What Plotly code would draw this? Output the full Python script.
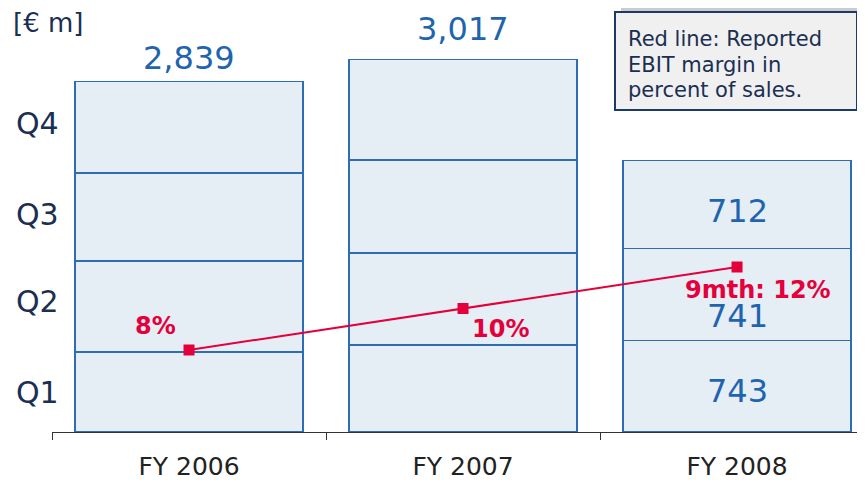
import plotly.graph_objects as go

years = ["FY 2006", "FY 2007", "FY 2008"]
q1 = [647, 704, 743]
q2 = [736, 744, 741]
q3 = [712, 752, 712]
q4 = [744, 817, None]
totals = ["2,839", "3,017", None]
quarter_labels = ["Q1", "Q2", "Q3", "Q4"]
margin_vals = [8, 10, 12]
margin_labels = ["8%", "10%", "9mth: 12%"]
fy08_labels = ["743", "741", "712"]
legend_lines = ["Red line: Reported", "EBIT margin in", "percent of sales."]

BAR_FILL = "#E5EDF5"
BAR_LINE = "#2E6DB4"
BLUE_TXT = "#1F64AE"
NAVY = "#1B2F52"
RED = "#E4003A"
FONT = "DejaVu Sans"

# page has 8px body margin: figure is offset by (8, 8)
OFF = 8
PAGE_W, PAGE_H = 865, 480
W, H = PAGE_W - OFF, PAGE_H - OFF
PLOT_L, PLOT_R, PLOT_T, PLOT_B = 52, 865, 20, 432  # page pixels
L, R, T, B = PLOT_L - OFF, PAGE_W - PLOT_R, PLOT_T - OFF, PAGE_H - PLOT_B
PW, PH = PLOT_R - PLOT_L, PLOT_B - PLOT_T

def px_x(x):
    return (x - PLOT_L) / PW

def px_y(y):
    return (PLOT_B - y) / PH

fig = go.Figure()
for vals in [q1, q2, q3, q4]:
    fig.add_trace(go.Bar(
        x=years, y=vals, width=0.832,
        marker=dict(color=BAR_FILL, line=dict(color=BAR_LINE, width=1.2)),
        showlegend=False, hoverinfo="skip"))

fig.add_trace(go.Scatter(
    x=years, y=margin_vals, yaxis="y2", mode="lines+markers",
    line=dict(color=RED, width=2),
    marker=dict(symbol="square", size=11, color=RED),
    showlegend=False, hoverinfo="skip"))

ann = []
tot_vals = [sum(v for v in (a, b, c, d) if v is not None) for a, b, c, d in zip(q1, q2, q3, q4)]
tot_shift = [23, 30]
for i in range(2):
    ann.append(dict(x=years[i], y=tot_vals[i], xref="x", yref="y", text=totals[i],
                    showarrow=False, xanchor="center", yanchor="middle", yshift=tot_shift[i],
                    font=dict(family=FONT, size=32, color=BLUE_TXT)))
cum = 0
seg_shift = [-5, -22, -6]
for j, v in enumerate([q1[2], q2[2], q3[2]]):
    mid = cum + v / 2
    cum += v
    ann.append(dict(x=years[2], y=mid, xref="x", yref="y", text=fy08_labels[j],
                    showarrow=False, xanchor="center", yanchor="middle", yshift=seg_shift[j],
                    borderpad=0, font=dict(family=FONT, size=32, color=BLUE_TXT)))
m_shift = [(-34, 24), (37, -20), (21, -23)]
for i in range(3):
    ann.append(dict(x=years[i], y=margin_vals[i], xref="x", yref="y2", text="<b>" + margin_labels[i] + "</b>",
                    showarrow=False, xanchor="center", yanchor="middle",
                    xshift=m_shift[i][0], yshift=m_shift[i][1],
                    borderpad=0, font=dict(family=FONT, size=24, color=RED)))
q_px = [392, 302, 214, 123]
for lab, yp in zip(quarter_labels, q_px):
    ann.append(dict(x=px_x(37), y=px_y(yp), xref="paper", yref="paper", text=lab,
                    xanchor="center", yanchor="middle",
                    showarrow=False, font=dict(family=FONT, size=30, color=NAVY)))
ann.append(dict(x=px_x(48), y=px_y(23), xref="paper", yref="paper", text="[€ m]",
                xanchor="center", yanchor="middle",
                showarrow=False, font=dict(family=FONT, size=26, color=NAVY)))
for k, line in enumerate(legend_lines):
    ann.append(dict(x=px_x(626), y=px_y(39 + 25.5 * k), xref="paper", yref="paper",
                    xanchor="left", yanchor="middle", text=line,
                    showarrow=False, font=dict(family=FONT, size=21, color=NAVY)))

shapes = [
    dict(type="rect", xref="paper", yref="paper", x0=px_x(621), x1=px_x(862), y0=px_y(4), y1=px_y(103),
         fillcolor="#CCCCCC", line=dict(width=0), layer="above"),
    dict(type="rect", xref="paper", yref="paper", x0=px_x(615), x1=px_x(857), y0=px_y(12), y1=px_y(110),
         fillcolor="#F0F0F0", line=dict(color="#1B3A66", width=2), layer="above"),
]

fig.update_layout(
    width=W, height=H, margin=dict(l=L, r=R, t=T, b=B),
    barmode="stack", bargap=0.168,
    plot_bgcolor="white", paper_bgcolor="white",
    font=dict(family=FONT, color="#222222"),
    xaxis=dict(type="category", range=[-0.5, 2.467], tickson="boundaries",
               ticks="outside", ticklen=7, tickcolor="#333333",
               showline=True, linecolor="#333333", linewidth=1,
               showgrid=False, zeroline=False,
               tickfont=dict(family=FONT, size=25, color="#222222"),
               ticklabelstandoff=12),
    yaxis=dict(range=[0, PH / 0.1236], visible=False, showgrid=False, zeroline=False),
    yaxis2=dict(range=[8 - 82 / 20.75, 8 + 330 / 20.75], overlaying="y", visible=False,
                showgrid=False, zeroline=False),
    annotations=ann, shapes=shapes,
)

fig.write_html("out.html")
